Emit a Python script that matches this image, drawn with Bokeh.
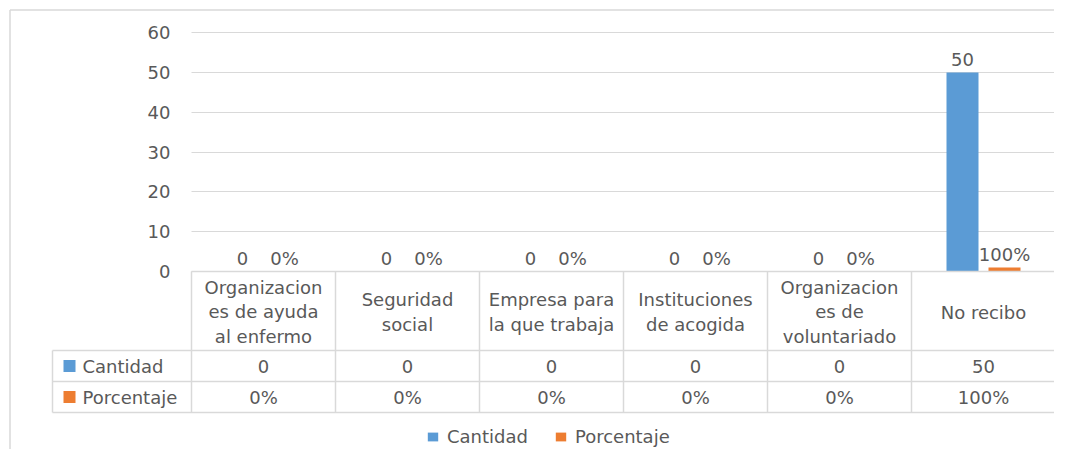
from bokeh.plotting import figure
from bokeh.models import (ColumnDataSource, Range1d, LinearAxis, FixedTicker, Grid,
                          Legend, LegendItem)
from bokeh.core.properties import value
from bokeh.transform import dodge
from bokeh.embed import file_html
from bokeh.resources import INLINE

# ---------------- data ----------------
categories = ["Organizaciones de ayuda al enfermo", "Seguridad social",
              "Empresa para la que trabaja", "Instituciones de acogida",
              "Organizaciones de voluntariado", "No recibo"]
category_labels = ["Organizacion\nes de ayuda\nal enfermo", "Seguridad\nsocial",
                   "Empresa para\nla que trabaja", "Instituciones\nde acogida",
                   "Organizacion\nes de\nvoluntariado", "No recibo"]
series_names = ["Cantidad", "Porcentaje"]
cantidad = [0, 0, 0, 0, 0, 50]
porcentaje = [0.0, 0.0, 0.0, 0.0, 0.0, 1.0]
y_ticks = [0, 10, 20, 30, 40, 50, 60]
colors = ["#5B9BD5", "#ED7D31"]

# ---------------- layout (pixels on the canvas) ----------------
W, H = 1054, 449
PX0, PXU = 191.0, 144.0      # canvas x of category start, px per category
PY0, PYU = 271.0, 3.978      # canvas y of value 0, px per unit
FONT = "DejaVu Sans"
FS = "18px"
TXT = "#595959"
LINE = "#D9D9D9"


def dx(px):
    return (px - PX0) / PXU


def dy(py):
    return (PY0 - py) / PYU


n = len(categories)
centers = [i + 0.5 for i in range(n)]
src = ColumnDataSource(dict(
    x=centers,
    cantidad=cantidad,
    porcentaje=porcentaje,
    cant_lbl=[str(v) for v in cantidad],
    pct_lbl=[f"{v:.0%}" for v in porcentaje],
    label=category_labels,
))

p = figure(width=W, height=H, x_range=Range1d(dx(0), dx(W)), y_range=Range1d(dy(H), dy(0)),
           x_axis_type=None, y_axis_type=None, output_backend="svg",
           toolbar_location=None, min_border=0)
p.min_border_left = p.min_border_right = p.min_border_top = p.min_border_bottom = 0
p.background_fill_color = "white"
p.border_fill_color = "white"
p.outline_line_color = None

# outer chart border (left and top edges visible in the picture)
p.segment(x0=[dx(9.5), dx(9.5)], x1=[dx(9.5), dx(W + 20)],
          y0=[dy(9.5), dy(9.5)], y1=[dy(H + 20), dy(9.5)],
          line_color=LINE, line_width=1.5)

# grid lines
grid_kw = dict(dimension=1, ticker=FixedTicker(ticks=y_ticks), grid_line_color=LINE)
try:
    grid = Grid(cross_bounds=(0, n), **grid_kw)
    p.add_layout(grid)
except Exception:
    p.segment(x0=[0] * len(y_ticks), x1=[n] * len(y_ticks), y0=y_ticks, y1=y_ticks,
              line_color=LINE)

# y axis fixed at x=0
yaxis = LinearAxis(fixed_location=0, ticker=FixedTicker(ticks=y_ticks),
                   axis_line_color=None, major_tick_line_color=None,
                   minor_tick_line_color=None, major_tick_out=0, major_tick_in=0,
                   major_label_standoff=21,
                   major_label_text_font=FONT, major_label_text_font_size=FS,
                   major_label_text_color=TXT)
p.add_layout(yaxis, "left")

off = 21.0 / PXU
bw = 32.0 / PXU
r1 = p.vbar(x=dodge("x", -off, range=p.x_range), top="cantidad", width=bw,
            source=src, fill_color=colors[0], line_color=None)
r2 = p.vbar(x=dodge("x", off, range=p.x_range), top="porcentaje", width=bw,
            source=src, fill_color=colors[1], line_color=None)

tk = dict(text_font=value(FONT), text_font_size=FS, text_color=TXT)
p.text(x=dodge("x", -off, range=p.x_range), y="cantidad", text="cant_lbl", source=src,
       text_align="center", text_baseline="alphabetic", y_offset=-13, **tk)
p.text(x=dodge("x", off, range=p.x_range), y="porcentaje", text="pct_lbl", source=src,
       text_align="center", text_baseline="alphabetic", y_offset=-13, **tk)

# ---------------- data table ----------------
t_top, t_r1, t_r2, t_bot, t_left = 271, 350, 381, 412, 52
seg_x0, seg_x1, seg_y0, seg_y1 = [], [], [], []
for i in range(n + 1):
    seg_x0.append(i); seg_x1.append(i); seg_y0.append(dy(t_top)); seg_y1.append(dy(t_bot))
seg_x0.append(dx(t_left)); seg_x1.append(dx(t_left)); seg_y0.append(dy(t_r1)); seg_y1.append(dy(t_bot))
for yy in (t_r1, t_r2, t_bot):
    seg_x0.append(dx(t_left)); seg_x1.append(n); seg_y0.append(dy(yy)); seg_y1.append(dy(yy))
seg_x0.append(0); seg_x1.append(n); seg_y0.append(dy(t_top)); seg_y1.append(dy(t_top))
p.segment(x0=seg_x0, x1=seg_x1, y0=seg_y0, y1=seg_y1, line_color=LINE, line_width=1.5)

p.text(x="x", y=dy((t_top + t_r1) / 2 + 1), text="label", source=src, text_align="center",
       text_baseline="middle", text_line_height=1.18, **tk)
p.text(x="x", y=dy((t_r1 + t_r2) / 2), text="cant_lbl", source=src, text_align="center",
       text_baseline="middle", **tk)
p.text(x="x", y=dy((t_r2 + t_bot) / 2), text="pct_lbl", source=src, text_align="center",
       text_baseline="middle", **tk)

row_y = [dy((t_r1 + t_r2) / 2), dy((t_r2 + t_bot) / 2)]
p.scatter(x=[dx(69)] * 2, y=row_y, marker="square", size=12, fill_color=colors,
          line_color=None)
p.text(x=[dx(82)] * 2, y=row_y, text=series_names, text_align="left",
       text_baseline="middle", **tk)

# ---------------- legend ----------------
legend = Legend(items=[LegendItem(label=series_names[0], renderers=[r1]),
                       LegendItem(label=series_names[1], renderers=[r2])],
                orientation="horizontal", location=(426, 2), glyph_width=13,
                glyph_height=11, label_standoff=8, spacing=26, padding=0, margin=0,
                label_height=14, border_line_color=None, background_fill_alpha=0,
                label_text_font=FONT, label_text_font_size=FS, label_text_color=TXT)
p.add_layout(legend)

open("out.html", "w").write(file_html(p, INLINE))
